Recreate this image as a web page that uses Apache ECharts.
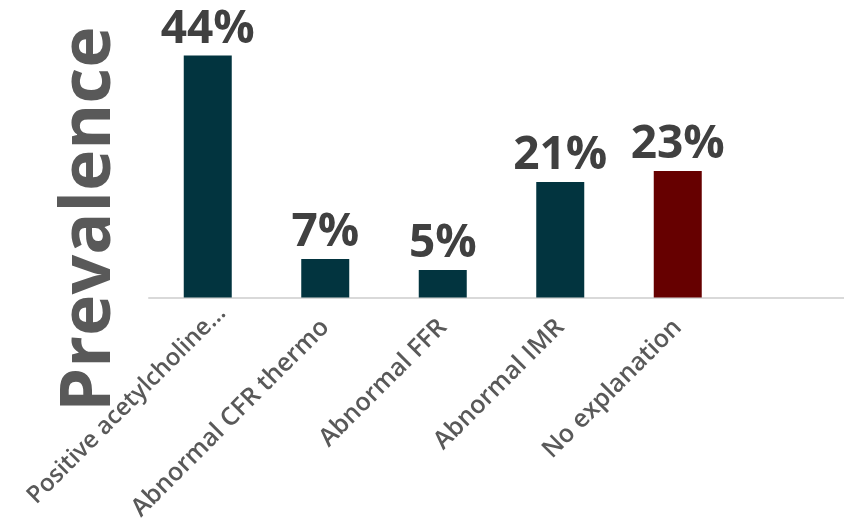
<!DOCTYPE html>
<html>
<head>
<meta charset="utf-8">
<script src="https://cdn.jsdelivr.net/npm/echarts@6/dist/echarts.min.js"></script>
<style>
  html, body { margin: 0; padding: 0; background: #ffffff; }
  #chart { width: 844px; height: 530px; }
</style>
</head>
<body>
<div id="chart"></div>
<script>
// Categories along the x axis (last slot is left empty)
const categories = [
  'Positive acetylcholine…',
  'Abnormal CFR thermo',
  'Abnormal FFR',
  'Abnormal IMR',
  'No explanation',
  ''
];
// Prevalence in percent
const prevalence = [44, 7, 5, 21, 23, null];
// Bar colours per category
const barColors = ['#02343f', '#02343f', '#02343f', '#02343f', '#660000', '#02343f'];
const axisTitle = 'Prevalence';

const chart = echarts.init(document.getElementById('chart'), null, { renderer: 'canvas' });

// the truncated first label sits a little further along its slant
const categoryData = categories.map((c, i) => i === 0
  ? { value: c, textStyle: { fontSize: 24, padding: [0, -20, 0, 0] } }
  : c);

chart.setOption({
  backgroundColor: '#ffffff',
  animation: false,
  grid: {
    left: 149, top: 22.5, width: 705, height: 275,
    containLabel: false,
    outerBoundsMode: 'none'
  },
  xAxis: {
    type: 'category',
    data: categoryData,
    axisLine: { show: true, lineStyle: { color: '#d9d9d9', width: 2 } },
    axisTick: { show: false },
    axisLabel: {
      interval: 0,
      rotate: 45,
      margin: 26,
      color: '#595959',
      fontFamily: 'Open Sans',
      fontWeight: 600,
      fontSize: 25
    }
  },
  yAxis: {
    type: 'value',
    min: 0,
    max: 50,
    show: false
  },
  graphic: [{
    type: 'text',
    x: 90,
    y: 219,
    rotation: Math.PI / 2,
    style: {
      text: axisTitle,
      fill: '#595959',
      font: '700 70px "Open Sans"',
      textAlign: 'center',
      textVerticalAlign: 'middle'
    }
  }],
  series: [{
    type: 'bar',
    barWidth: 48,
    data: prevalence.map((v, i) => ({ value: v, itemStyle: { color: barColors[i] } })),
    label: {
      show: true,
      position: 'top',
      distance: 3,
      formatter: p => p.value + '%',
      color: '#404040',
      fontFamily: 'Open Sans',
      fontWeight: 700,
      fontSize: 46
    }
  }]
});
</script>
</body>
</html>
